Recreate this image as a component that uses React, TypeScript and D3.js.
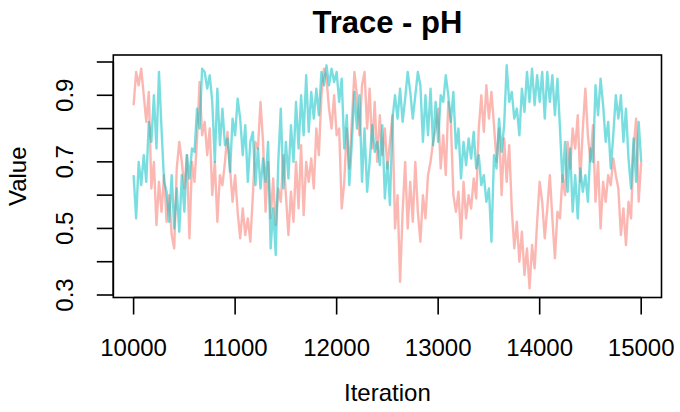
import React from "react";
import * as d3 from "d3";

const ITER_START = 10000;
const ITER_STEP = 25;

// chain 1 (pink), one value every 25 iterations from 10000 to 15000
const chain1: number[] = [
  0.87, 0.97, 0.93, 0.98,
  0.90, 0.82, 0.91, 0.62,
  0.70, 0.51, 0.64, 0.55,
  0.66, 0.52, 0.60, 0.48,
  0.44, 0.68, 0.76, 0.70,
  0.62, 0.72, 0.47, 0.70,
  0.64, 0.77, 0.94, 0.78,
  0.82, 0.72, 0.80, 0.60,
  0.70, 0.52, 0.66, 0.63,
  0.70, 0.79, 0.68, 0.58,
  0.66, 0.55, 0.47, 0.56,
  0.48, 0.53, 0.46, 0.60,
  0.76, 0.74, 0.88, 0.76,
  0.55, 0.70, 0.53, 0.65,
  0.51, 0.62, 0.58, 0.72,
  0.60, 0.48, 0.61, 0.52,
  0.70, 0.56, 0.75, 0.54,
  0.70, 0.64, 0.71, 0.62,
  0.80, 0.72, 0.90, 0.98,
  0.95, 0.86, 0.80, 0.90,
  0.78, 0.80, 0.56, 0.64,
  0.80, 0.68, 0.82, 0.97,
  0.90, 0.78, 0.93, 0.97,
  0.80, 0.92, 0.74, 0.88,
  0.70, 0.84, 0.72, 0.80,
  0.68, 0.76, 0.84, 0.50,
  0.60, 0.34, 0.55, 0.70,
  0.50, 0.64, 0.52, 0.70,
  0.55, 0.46, 0.60, 0.53,
  0.66, 0.70, 0.76, 0.80,
  0.86, 0.68, 0.78, 0.66,
  0.88, 0.82, 0.60, 0.55,
  0.61, 0.47, 0.64, 0.53,
  0.60, 0.56, 0.65, 0.59,
  0.80, 0.90, 0.79, 0.93,
  0.83, 0.91, 0.81, 0.70,
  0.80, 0.60, 0.77, 0.64,
  0.75, 0.56, 0.44, 0.52,
  0.40, 0.49, 0.36, 0.44,
  0.32, 0.45, 0.38, 0.52,
  0.64, 0.58, 0.47, 0.56,
  0.66, 0.53, 0.41, 0.55,
  0.53, 0.66, 0.60, 0.76,
  0.68, 0.80, 0.74, 0.84,
  0.64, 0.80, 0.92, 0.78,
  0.70, 0.81, 0.58, 0.70,
  0.50, 0.64, 0.58, 0.66,
  0.63, 0.71, 0.66, 0.62,
  0.48, 0.56, 0.45, 0.58,
  0.53, 0.74, 0.83, 0.58,
  0.70,
];

// chain 2 (cyan)
const chain2: number[] = [
  0.66, 0.53, 0.70, 0.63,
  0.72, 0.64, 0.82, 0.76,
  0.90, 0.74, 0.97, 0.80,
  0.64, 0.61, 0.52, 0.66,
  0.50, 0.62, 0.49, 0.66,
  0.55, 0.72, 0.65, 0.74,
  0.73, 0.86, 0.80, 0.98,
  0.97, 0.92, 0.96, 0.88,
  0.70, 0.92, 0.75, 0.86,
  0.75, 0.77, 0.67, 0.83,
  0.78, 0.89, 0.83, 0.72,
  0.81, 0.64, 0.76, 0.79,
  0.63, 0.74, 0.62, 0.71,
  0.64, 0.76, 0.44, 0.56,
  0.42, 0.70, 0.86, 0.62,
  0.76, 0.65, 0.81, 0.70,
  0.88, 0.74, 0.90, 0.78,
  0.96, 0.79, 0.91, 0.83,
  0.92, 0.84, 0.97, 0.93,
  0.99, 0.93, 0.98, 0.94,
  0.97, 0.88, 0.95, 0.74,
  0.84, 0.63, 0.76, 0.91,
  0.80, 0.90, 0.64, 0.80,
  0.61, 0.70, 0.81, 0.73,
  0.76, 0.69, 0.81, 0.59,
  0.70, 0.57, 0.83, 0.90,
  0.83, 0.92, 0.82, 0.89,
  0.97, 0.91, 0.83, 0.90,
  0.97, 0.93, 0.76, 0.90,
  0.78, 0.92, 0.75, 0.88,
  0.76, 0.90, 0.88, 0.96,
  0.90, 0.82, 0.91, 0.74,
  0.80, 0.65, 0.76, 0.69,
  0.77, 0.71, 0.79, 0.68,
  0.72, 0.63, 0.66, 0.58,
  0.62, 0.46, 0.72, 0.68,
  0.83, 0.73, 0.81, 0.99,
  0.88, 0.91, 0.83, 0.86,
  0.78, 0.92, 0.85, 0.97,
  0.88, 0.98, 0.87, 0.96,
  0.88, 0.97, 0.83, 0.97,
  0.88, 0.96, 0.84, 0.95,
  0.80, 0.64, 0.76, 0.61,
  0.74, 0.55, 0.66, 0.53,
  0.68, 0.61, 0.66, 0.58,
  0.74, 0.70, 0.93, 0.84,
  0.95, 0.87, 0.76, 0.82,
  0.68, 0.78, 0.90, 0.83,
  0.90, 0.76, 0.86, 0.71,
  0.62, 0.77, 0.64, 0.82,
  0.70,
];

const xTicks = [10000, 11000, 12000, 13000, 14000, 15000];
const yTicks = [0.3, 0.4, 0.5, 0.6, 0.7, 0.8, 0.9, 1.0];
const yTickLabels = [0.3, 0.5, 0.7, 0.9];

const TITLE = "Trace - pH";
const X_LABEL = "Iteration";
const Y_LABEL = "Value";

const W = 680;
const H = 412;
const FONT = "'Liberation Sans', Arial, Helvetica, sans-serif";

export default function App() {
  const left = 113.3;
  const right = 661.5;
  const top = 55;
  const bottom = 297.5;

  const x = d3.scaleLinear().domain([9800, 15200]).range([left, right]);
  const y = d3.scaleLinear().domain([0.2925, 1.021]).range([bottom, top]);

  const line = d3
    .line<number>()
    .x((_, i) => x(ITER_START + i * ITER_STEP))
    .y((d) => y(d));

  const tickLen = 17;
  const fmt = d3.format(".1f");

  return (
    <svg
      width={W}
      height={H}
      viewBox={`0 0 ${W} ${H}`}
      style={{ position: "absolute", left: 0, top: 0, background: "#fff" }}
    >
      <rect x={0} y={0} width={W} height={H} fill="#fff" />
      <g>
        <path d={line(chain1) || ""} fill="none" stroke="#F8766D" strokeOpacity={0.52} strokeWidth={2.4} strokeLinejoin="round" />
        <path d={line(chain2) || ""} fill="none" stroke="#00BFC4" strokeOpacity={0.52} strokeWidth={2.4} strokeLinejoin="round" />
      </g>
      {/* box */}
      <rect x={left} y={top} width={right - left} height={bottom - top} fill="none" stroke="#000" strokeWidth={1.6} />
      {/* x axis */}
      <line x1={x(xTicks[0])} x2={x(xTicks[xTicks.length - 1])} y1={bottom} y2={bottom} stroke="#000" strokeWidth={1.6} />
      {xTicks.map((t) => (
        <g key={t}>
          <line x1={x(t)} x2={x(t)} y1={bottom} y2={bottom + tickLen} stroke="#000" strokeWidth={1.6} />
          <text x={x(t)} y={356} textAnchor="middle" fontFamily={FONT} fontSize={24} fill="#000">
            {t}
          </text>
        </g>
      ))}
      {/* y axis */}
      <line x1={left} x2={left} y1={y(yTicks[0])} y2={y(yTicks[yTicks.length - 1])} stroke="#000" strokeWidth={1.6} />
      {yTicks.map((t) => (
        <line key={t} x1={left - 16.5} x2={left} y1={y(t)} y2={y(t)} stroke="#000" strokeWidth={1.6} />
      ))}
      {yTickLabels.map((t) => (
        <text
          key={t}
          transform={`translate(72.5, ${y(t)}) rotate(-90)`}
          textAnchor="middle"
          fontFamily={FONT}
          fontSize={24}
          fill="#000"
        >
          {fmt(t)}
        </text>
      ))}
      {/* titles */}
      <text x={(left + right) / 2} y={32.7} textAnchor="middle" fontFamily={FONT} fontSize={31} fontWeight="bold" fill="#000">
        {TITLE}
      </text>
      <text x={(left + right) / 2} y={401} textAnchor="middle" fontFamily={FONT} fontSize={24} fill="#000">
        {X_LABEL}
      </text>
      <text
        transform={`translate(25.5, ${(top + bottom) / 2}) rotate(-90)`}
        textAnchor="middle"
        fontFamily={FONT}
        fontSize={24}
        fill="#000"
      >
        {Y_LABEL}
      </text>
    </svg>
  );
}
